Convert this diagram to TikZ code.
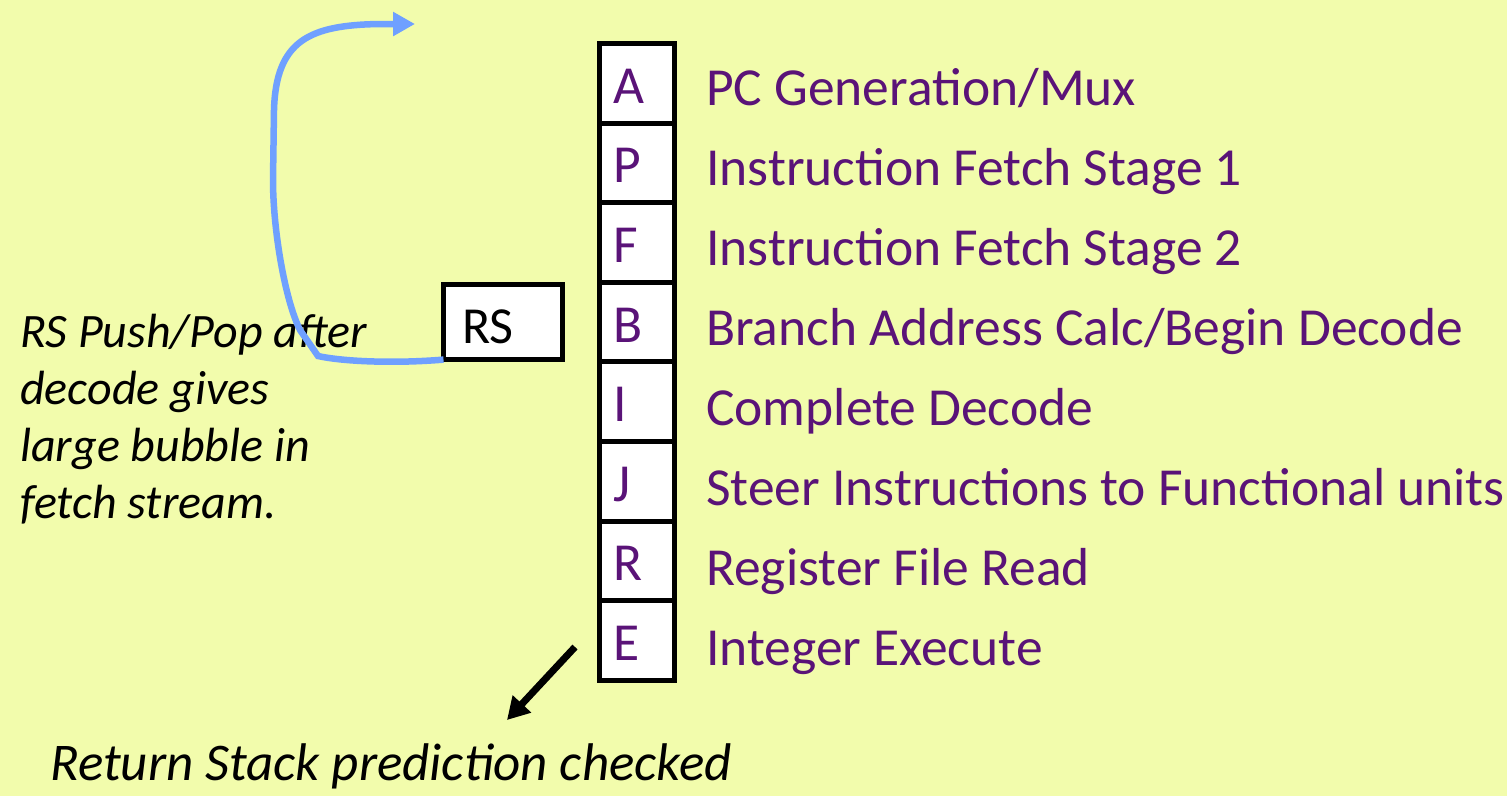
\documentclass[tikz,border=0pt]{standalone}
\usepackage{fontspec}
\setmainfont{Carlito}
\usetikzlibrary{arrows.meta}
\usetikzlibrary{positioning}
\definecolor{slidebg}{RGB}{242,252,172}
\definecolor{stagepurple}{RGB}{90,19,120}
\definecolor{rsblue}{RGB}{111,160,255}

\begin{document}
\begin{tikzpicture}[x = 1pt, y = -1pt]
\tikzstyle{stageStyle} = [draw, line width = 5pt, fill = white, outer sep = 0pt, minimum height = 79.6pt, text width = 47pt, inner xsep = 14pt, inner ysep = 0pt, align = left, text height = 40pt, text depth = 0pt, text = stagepurple, font = \fontsize{53.5}{60}\selectfont]
\tikzstyle{labelStyle} = [anchor = base west, inner sep = 0pt, text = stagepurple, font = \fontsize{53.5}{60}\selectfont]
\tikzstyle{rsStyle} = [draw, line width = 5pt, fill = white, outer sep = 0pt, minimum height = 75pt, text width = 82pt, inner xsep = 18.5pt, inner ysep = 0pt, align = left, text height = 42pt, text depth = 0pt, font = \fontsize{52}{60}\selectfont]
\tikzstyle{noteStyle} = [anchor = base west, inner sep = 0pt, align = left, font = \fontsize{48}{57}\selectfont\itshape]
\tikzstyle{rsArrow} = [draw = rsblue, line width = 6.5pt, -{Triangle[length = 22pt, width = 23pt]}]
\tikzstyle{checkArrow} = [draw = black, line width = 7pt, -{Triangle[length = 22pt, width = 24pt]}]
\fill[slidebg] (0,0) rectangle (1507,796);
\useasboundingbox (0,0) rectangle (1507,796);
\foreach \s/\t [count = \i from 0] in {A/{PC Generation/Mux}, P/{Instruction Fetch Stage 1}, F/{Instruction Fetch Stage 2}, B/{Branch Address Calc/Begin Decode}, I/{Complete Decode}, J/{Steer Instructions to Functional units}, R/{Register File Read}, E/{Integer Execute}}
{
\node[stageStyle] (stage\s) at (637, 83.3 + 79.6*\i) {\s};
\node[labelStyle] (label\s) at (706, 105 + 80*\i) {\t};
}
\node[rsStyle, left = 37pt of stageB] (RS) {RS};
\node[noteStyle] (rsNote) at (20, 518) {RS Push/Pop after\\decode gives\\large bubble in\\fetch stream.};
\node[noteStyle, font = \fontsize{53}{60}\selectfont\itshape] (checkNote) at (50, 780) {Return Stack prediction checked};
\coordinate (fetchTop) at (415, 24);
\coordinate (checkFrom) at (575, 647);
\coordinate (checkTo) at (507, 720);
\draw[rsArrow] (RS.south west) .. controls (390, 364) and (340, 361) .. (318, 356) -- (300, 330) .. controls (285, 300) and (273, 230) .. (273, 180) -- (274, 110) .. controls (276, 40) and (310, 25) .. (380, 24) -- (fetchTop);
\draw[checkArrow] (checkFrom) -- (checkTo);
\end{tikzpicture}
\end{document}
